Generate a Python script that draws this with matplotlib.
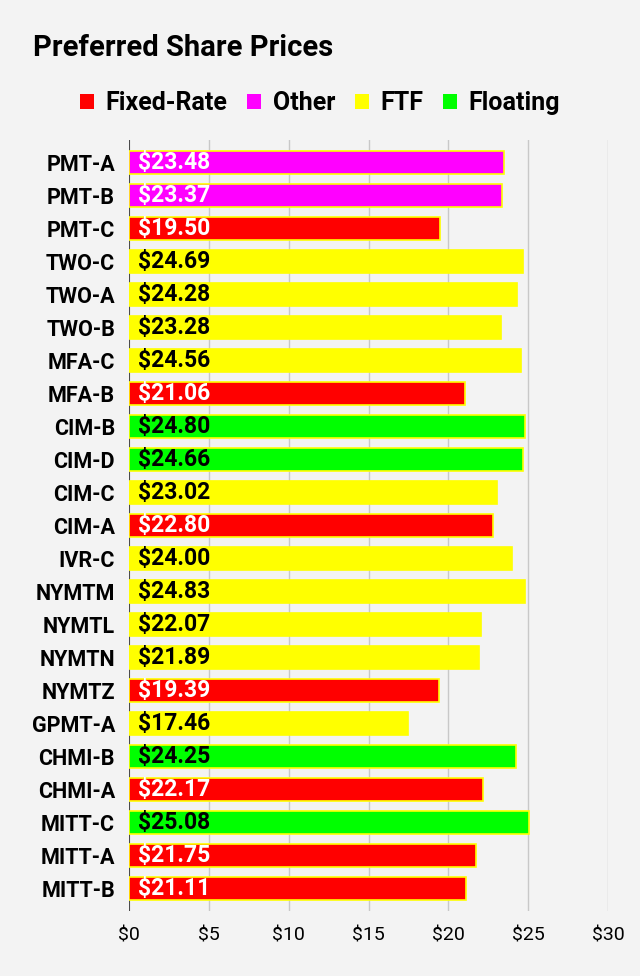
import matplotlib.pyplot as plt
from matplotlib.patches import Patch

plt.rcParams['font.family'] = ['Roboto', 'DejaVu Sans']

# data
tickers = ['PMT-A', 'PMT-B', 'PMT-C', 'TWO-C', 'TWO-A', 'TWO-B', 'MFA-C', 'MFA-B',
           'CIM-B', 'CIM-D', 'CIM-C', 'CIM-A', 'IVR-C', 'NYMTM', 'NYMTL', 'NYMTN',
           'NYMTZ', 'GPMT-A', 'CHMI-B', 'CHMI-A', 'MITT-C', 'MITT-A', 'MITT-B']
prices = [23.48, 23.37, 19.50, 24.69, 24.28, 23.28, 24.56, 21.06,
          24.80, 24.66, 23.02, 22.80, 24.00, 24.83, 22.07, 21.89,
          19.39, 17.46, 24.25, 22.17, 25.08, 21.75, 21.11]
types = ['Other', 'Other', 'Fixed-Rate', 'FTF', 'FTF', 'FTF', 'FTF', 'Fixed-Rate',
         'Floating', 'Floating', 'FTF', 'Fixed-Rate', 'FTF', 'FTF', 'FTF', 'FTF',
         'Fixed-Rate', 'FTF', 'Floating', 'Fixed-Rate', 'Floating', 'Fixed-Rate', 'Fixed-Rate']

colors = {'Fixed-Rate': '#ff0000', 'Other': '#ff00ff', 'FTF': '#ffff00', 'Floating': '#00ff00'}
textcol = {'Fixed-Rate': 'white', 'Other': 'white', 'FTF': 'black', 'Floating': 'black'}

bg = '#f3f3f3'
fig = plt.figure(figsize=(6.4, 9.76), dpi=100, facecolor=bg)
ax = fig.add_axes([129 / 640, 1 - 911 / 976, (608 - 129) / 640, (911 - 140) / 976])
ax.set_facecolor(bg)

y = list(range(len(tickers)))
ax.barh(y, prices, height=0.69, color=[colors[t] for t in types],
        edgecolor='#ffff00', linewidth=1.2, zorder=3)

for i, (p, t) in enumerate(zip(prices, types)):
    ax.text(0.55, i, f'${p:.2f}', va='center', ha='left', fontsize=16.5,
            fontweight='bold', color=textcol[t], zorder=4)

# extra room above the first and below the last bar
ax.set_ylim(len(tickers) - 1 + 0.67, -0.68)
ax.set_xlim(0, 30)
ax.set_xticks([0, 5, 10, 15, 20, 25, 30])
ax.set_xticklabels([f'${v}' for v in [0, 5, 10, 15, 20, 25, 30]], fontsize=14)
ax.set_yticks(y)
ax.set_yticklabels(tickers, fontsize=15.5, fontweight='bold')
ax.tick_params(axis='y', length=0, pad=10)
ax.tick_params(axis='x', length=0, pad=11)
ax.grid(axis='x', color='#c8c8c8', linewidth=1, zorder=0)
for s in ax.spines.values():
    s.set_visible(False)
ax.axvline(0, color='#333333', linewidth=1.2, zorder=2)

fig.text(33 / 640, 1 - 48 / 976, 'Preferred Share Prices', fontsize=21,
         fontweight='bold', va='center', ha='left')

handles = [Patch(facecolor=colors[k], edgecolor='none') for k in colors]
fig.legend(handles, list(colors.keys()), loc='center', bbox_to_anchor=(320 / 640, 1 - 103 / 976),
           ncol=4, frameon=False, prop={'size': 18, 'weight': 'bold'},
           handlelength=0.56, handleheight=0.56, handletextpad=0.45, columnspacing=0.8)

fig.savefig('out.png', dpi=100, facecolor=bg)
